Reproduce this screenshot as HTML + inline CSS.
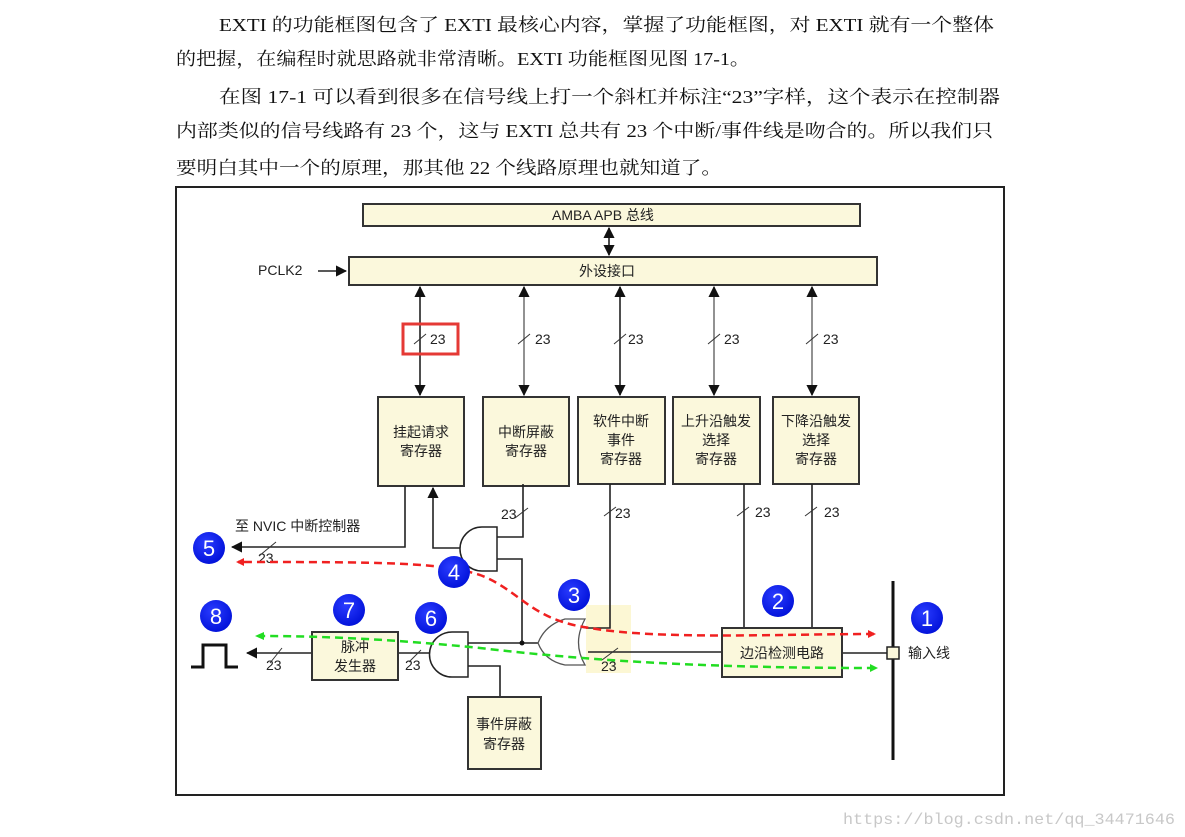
<!DOCTYPE html>
<html><head><meta charset="utf-8"><style>
html,body{margin:0;padding:0;background:#fff;width:1185px;height:837px;overflow:hidden}
svg{display:block}
.p{font-family:"Liberation Serif","Noto Serif CJK SC",serif;font-size:18px;fill:#111}
.s{font-family:"Liberation Sans","Noto Sans CJK SC",sans-serif;font-size:14px;fill:#222}
.b{fill:#fbf8dc;stroke:#333;stroke-width:2}
.l{stroke:#222;stroke-width:1.6;fill:none}
.n{font-family:"Liberation Sans",sans-serif;font-size:22px;fill:#fff;text-anchor:middle}
</style></head><body>
<svg width="1185" height="837" viewBox="0 0 1185 837" xmlns="http://www.w3.org/2000/svg">
<defs>
<marker id="a" viewBox="0 0 10 10" refX="9" refY="5" markerWidth="7" markerHeight="7" orient="auto-start-reverse"><path d="M0 0L10 5L0 10z" fill="#111"/></marker>
<radialGradient id="g" cx="40%" cy="35%" r="70%"><stop offset="0" stop-color="#2a3cff"/><stop offset="1" stop-color="#0010d8"/></radialGradient>
</defs>
<text class="p" x="219" y="31" textLength="775" lengthAdjust="spacingAndGlyphs">EXTI 的功能框图包含了 EXTI 最核心内容，掌握了功能框图，对 EXTI 就有一个整体</text>
<text class="p" x="176" y="65" textLength="574" lengthAdjust="spacingAndGlyphs">的把握，在编程时就思路就非常清晰。EXTI 功能框图见图 17-1。</text>
<text class="p" x="219" y="103" textLength="781" lengthAdjust="spacingAndGlyphs">在图 17-1 可以看到很多在信号线上打一个斜杠并标注“23”字样，这个表示在控制器</text>
<text class="p" x="176" y="137" textLength="817" lengthAdjust="spacingAndGlyphs">内部类似的信号线路有 23 个，这与 EXTI 总共有 23 个中断/事件线是吻合的。所以我们只</text>
<text class="p" x="176" y="174" textLength="546" lengthAdjust="spacingAndGlyphs">要明白其中一个的原理，那其他 22 个线路原理也就知道了。</text>

<rect x="176" y="187" width="828" height="608" fill="none" stroke="#222" stroke-width="2"/>

<rect class="b" x="363" y="204" width="497" height="22"/>
<text class="s" x="552" y="220">AMBA APB 总线</text>
<rect class="b" x="349" y="257" width="528" height="28"/>
<text class="s" x="579" y="276">外设接口</text>
<text class="s" x="258" y="275">PCLK2</text>
<line class="l" x1="318" y1="271" x2="346" y2="271" marker-end="url(#a)"/>
<line class="l" x1="609" y1="228" x2="609" y2="255" marker-start="url(#a)" marker-end="url(#a)"/>

<g class="l">
<line x1="420" y1="287" x2="420" y2="395" marker-start="url(#a)" marker-end="url(#a)"/>
<line x1="524" y1="287" x2="524" y2="395" marker-start="url(#a)" marker-end="url(#a)" stroke="#777"/>
<line x1="620" y1="287" x2="620" y2="395" marker-start="url(#a)" marker-end="url(#a)"/>
<line x1="714" y1="287" x2="714" y2="395" marker-start="url(#a)" marker-end="url(#a)" stroke="#777"/>
<line x1="812" y1="287" x2="812" y2="395" marker-start="url(#a)" marker-end="url(#a)" stroke="#777"/>
</g>
<g class="s">
<text x="430" y="344">23</text><text x="535" y="344">23</text><text x="628" y="344">23</text><text x="724" y="344">23</text><text x="823" y="344">23</text>
</g>
<g stroke="#333" stroke-width="1">
<line x1="414" y1="344" x2="426" y2="334"/><line x1="518" y1="344" x2="530" y2="334"/><line x1="614" y1="344" x2="626" y2="334"/><line x1="708" y1="344" x2="720" y2="334"/><line x1="806" y1="344" x2="818" y2="334"/>
</g>
<rect x="403" y="324" width="55" height="30" fill="none" stroke="#e53935" stroke-width="3"/>

<rect class="b" x="378" y="397" width="86" height="89"/>
<rect class="b" x="483" y="397" width="86" height="89"/>
<rect class="b" x="578" y="397" width="87" height="87"/>
<rect class="b" x="673" y="397" width="87" height="87"/>
<rect class="b" x="773" y="397" width="86" height="87"/>
<g class="s" text-anchor="middle">
<text x="421" y="437">挂起请求</text><text x="421" y="456">寄存器</text>
<text x="526" y="437">中断屏蔽</text><text x="526" y="456">寄存器</text>
<text x="621" y="426">软件中断</text><text x="621" y="445">事件</text><text x="621" y="464">寄存器</text>
<text x="716" y="426">上升沿触发</text><text x="716" y="445">选择</text><text x="716" y="464">寄存器</text>
<text x="816" y="426">下降沿触发</text><text x="816" y="445">选择</text><text x="816" y="464">寄存器</text>
</g>

<!-- yellow highlight -->
<rect x="586" y="605" width="45" height="68" fill="#fcf7d4"/>

<g class="l">
<polyline points="405,486 405,547 232,547" marker-end="url(#a)"/>
<polyline points="467,548 433,548 433,488" marker-end="url(#a)"/>
<polyline points="497,537 523,537 523,484"/>
<polyline points="497,559 522,559 522,643"/>
<polyline points="610,484 610,628 586,628"/>
<line x1="538" y1="643" x2="468" y2="643"/>
<line x1="588" y1="652" x2="722" y2="652"/>
<polyline points="468,666 500,666 500,697"/>
<line x1="437" y1="653" x2="398" y2="653"/>
<line x1="312" y1="653" x2="247" y2="653" marker-end="url(#a)"/>
<line x1="744" y1="484" x2="744" y2="628"/>
<line x1="812" y1="484" x2="812" y2="628"/>
<line x1="842" y1="653" x2="887" y2="653"/>
</g>
<circle cx="522" cy="643" r="2.5" fill="#111"/>
<!-- AND gate 4 -->
<path d="M497 527 H482 A22 22 0 0 0 482 571 H497 Z" fill="#fff" stroke="#222" stroke-width="1.5"/>
<!-- AND gate 6 -->
<path d="M468 632 H452 A22 22 0 0 0 452 677 H468 Z" fill="#fff" stroke="#222" stroke-width="1.5"/>
<!-- OR gate 3 -->
<path d="M585 619 H565 Q545 625 538 643 Q545 661 565 665 H585 Q572 643 585 619 Z" fill="#fff" stroke="#555" stroke-width="1.3"/>

<rect class="b" x="312" y="632" width="86" height="48"/>
<text class="s" x="355" y="652" text-anchor="middle">脉冲</text><text class="s" x="355" y="671" text-anchor="middle">发生器</text>
<rect class="b" x="468" y="697" width="73" height="72"/>
<text class="s" x="504" y="729" text-anchor="middle">事件屏蔽</text><text class="s" x="504" y="749" text-anchor="middle">寄存器</text>
<rect class="b" x="722" y="628" width="120" height="49"/>
<text class="s" x="782" y="658" text-anchor="middle">边沿检测电路</text>

<line x1="893" y1="581" x2="893" y2="760" stroke="#111" stroke-width="3"/>
<rect x="887" y="647" width="12" height="12" fill="#fbf8dc" stroke="#222" stroke-width="1.5"/>
<text class="s" x="908" y="658">输入线</text>
<polyline points="191,667 203,667 203,645 226,645 226,667 238,667" fill="none" stroke="#111" stroke-width="3"/>
<text class="s" x="235" y="531">至 NVIC 中断控制器</text>

<g class="s">
<text x="501" y="519">23</text><text x="615" y="518">23</text><text x="755" y="517">23</text><text x="824" y="517">23</text>
<text x="258" y="563">23</text><text x="266" y="670">23</text><text x="405" y="670">23</text><text x="601" y="671">23</text>
</g>
<g stroke="#333" stroke-width="1">
<line x1="515" y1="518" x2="528" y2="508"/><line x1="604" y1="516" x2="616" y2="507"/><line x1="737" y1="516" x2="749" y2="507"/><line x1="805" y1="516" x2="817" y2="507"/>
<line x1="259" y1="556" x2="276" y2="542"/><line x1="270" y1="663" x2="282" y2="648"/><line x1="409" y1="662" x2="421" y2="650"/><line x1="602" y1="660" x2="618" y2="648"/>
</g>

<path d="M874 634 C780 634 660 640 590 628 C530 620 520 590 480 575 C440 562 380 562 238 562" fill="none" stroke="#f02020" stroke-width="2.5" stroke-dasharray="8 5"/>
<path d="M236 562 l8 -4 v8 z" fill="#f02020"/>
<path d="M875 668 C720 668 600 662 480 648 C400 640 330 636 258 636" fill="none" stroke="#22dd22" stroke-width="2.5" stroke-dasharray="8 5"/>
<path d="M255 636 l9 -4 v8 z" fill="#22dd22"/>
<path d="M878 668 l-8 -4 v8 z" fill="#22dd22"/>
<path d="M876 634 l-8 -4 v8 z" fill="#f02020"/>

<g>
<circle cx="927" cy="618" r="16" fill="url(#g)"/><text class="n" x="927" y="626">1</text>
<circle cx="778" cy="601" r="16" fill="url(#g)"/><text class="n" x="778" y="609">2</text>
<circle cx="574" cy="595" r="16" fill="url(#g)"/><text class="n" x="574" y="603">3</text>
<circle cx="454" cy="572" r="16" fill="url(#g)"/><text class="n" x="454" y="580">4</text>
<circle cx="209" cy="548" r="16" fill="url(#g)"/><text class="n" x="209" y="556">5</text>
<circle cx="431" cy="618" r="16" fill="url(#g)"/><text class="n" x="431" y="626">6</text>
<circle cx="349" cy="610" r="16" fill="url(#g)"/><text class="n" x="349" y="618">7</text>
<circle cx="216" cy="616" r="16" fill="url(#g)"/><text class="n" x="216" y="624">8</text>
</g>

<text x="843" y="824" font-family="Liberation Mono,monospace" font-size="16" fill="#c8c8c8" textLength="332" lengthAdjust="spacingAndGlyphs">https://blog.csdn.net/qq_34471646</text>
</svg>
</body></html>
